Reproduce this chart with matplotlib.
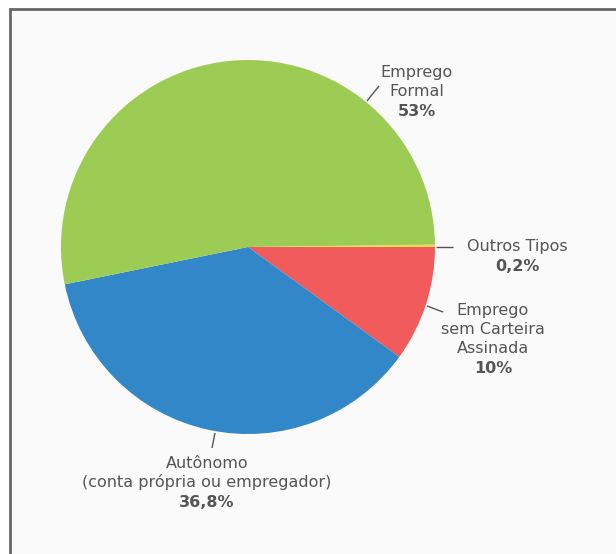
import matplotlib.pyplot as plt
from matplotlib.patches import Rectangle

# dados
rotulos = ["Outros Tipos", "Emprego\nsem Carteira\nAssinada", "Autônomo\n(conta própria ou empregador)", "Emprego\nFormal"]
valores = [0.2, 10, 36.8, 53]
pct_txt = ["0,2%", "10%", "36,8%", "53%"]
cores = ["#f4dc4e", "#f15b5b", "#3287c8", "#9ccc54"]

W, H = 616, 554
fig = plt.figure(figsize=(W / 100, H / 100), dpi=100)
fig.patch.set_facecolor("white")
ax = fig.add_axes([0, 0, 1, 1])

# moldura
ax.add_patch(Rectangle((9.5, -50), 700, H - 8.5 + 50, facecolor="#fafafa",
                       edgecolor="#666666", linewidth=2, zorder=0))

cx, cy, r = 248, H - 247, 187
ax.pie(valores, colors=cores, startangle=0.72, counterclock=False,
       center=(cx, cy), radius=r, frame=True,
       wedgeprops=dict(linewidth=0))
ax.set_xlim(0, W)
ax.set_ylim(0, H)
ax.set_aspect("auto")
ax.axis("off")

fonte = "DejaVu Sans"
cor_txt = "#555555"

# linhas guia (pixel coords, y para baixo)
guias = [((436, 247), (453, 247)),
         ((427, 306), (443, 312)),
         ((215, 433), (212, 448)),
         ((367, 101), (379, 86))]
for (x1, y1), (x2, y2) in guias:
    ax.plot([x1, x2], [H - y1, H - y2], color="#555555", lw=1, solid_capstyle="butt")

# posicoes dos rotulos: (x centro, y primeira linha)
pos = [(517, 246), (493, 310), (207, 463), (417, 72)]
lh = 19.3
for lab, p, (x, y) in zip(rotulos, pct_txt, pos):
    linhas = lab.split("\n")
    for i, ln in enumerate(linhas):
        ax.text(x, H - (y + i * lh), ln, ha="center", va="center",
                fontsize=11.5, color=cor_txt, family=fonte)
    ax.text(x, H - (y + len(linhas) * lh + 1), p, ha="center", va="center",
            fontsize=11.5, color=cor_txt, family=fonte, fontweight="bold")

fig.savefig("out.png", dpi=100)
